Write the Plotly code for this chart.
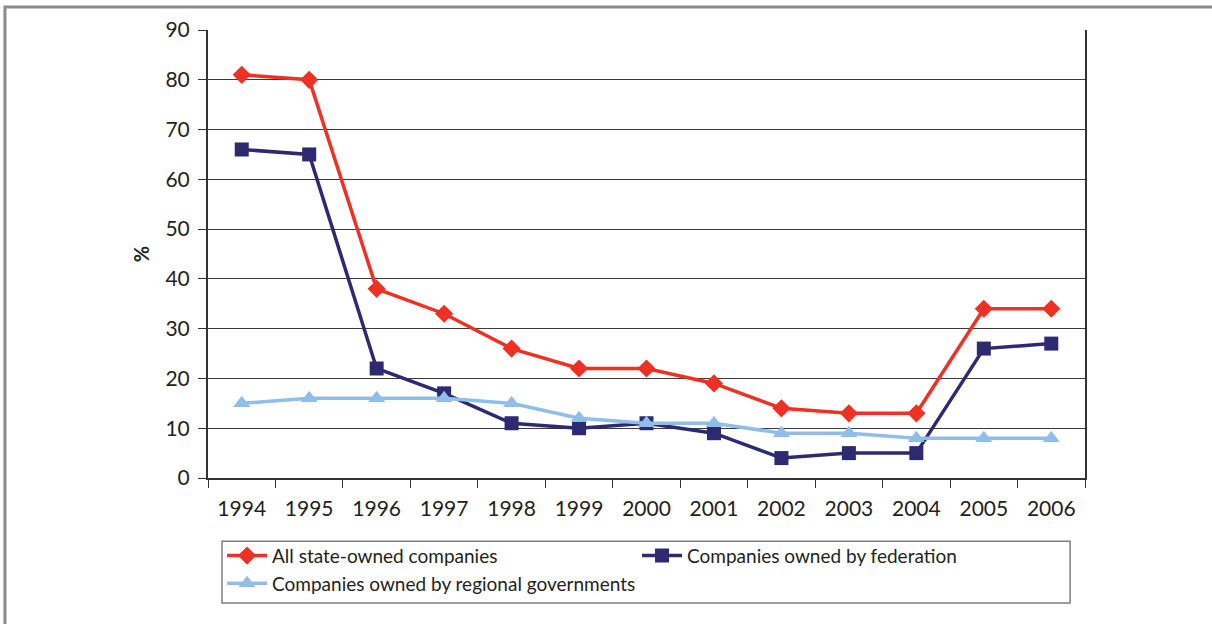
import plotly.graph_objects as go

years = ["1994", "1995", "1996", "1997", "1998", "1999", "2000",
         "2001", "2002", "2003", "2004", "2005", "2006"]
all_state = [81, 80, 38, 33, 26, 22, 22, 19, 14, 13, 13, 34, 34]
federation = [66, 65, 22, 17, 11, 10, 11, 9, 4, 5, 5, 26, 27]
regional = [15, 16, 16, 16, 15, 12, 11, 11, 9, 9, 8, 8, 8]

FONT = "Lato, 'Open Sans', sans-serif"
TXT = "#231f20"

fig = go.Figure()
fig.add_trace(go.Scatter(
    x=years, y=all_state, name="All state-owned companies", mode="lines+markers",
    line=dict(color="#ee3124", width=3.5),
    marker=dict(symbol="diamond", size=14, color="#ee3124")))
fig.add_trace(go.Scatter(
    x=years, y=federation, name="Companies owned by federation", mode="lines+markers",
    line=dict(color="#2e2a72", width=3.5),
    marker=dict(symbol="square", size=14, color="#2e2a72")))
fig.add_trace(go.Scatter(
    x=years, y=regional, name="Companies owned by regional governments", mode="lines+markers",
    line=dict(color="#8fbfe8", width=3.5),
    marker=dict(symbol="triangle-up", size=15, color="#8fbfe8")))

fig.update_layout(
    width=1212, height=624,
    margin=dict(l=208, r=127, t=30, b=146),
    paper_bgcolor="white", plot_bgcolor="white",
    font=dict(family=FONT, size=20, color=TXT),
    showlegend=True,
    legend=dict(
        orientation="h", x=0.016, xanchor="left", y=-0.131, yanchor="top",
        font=dict(family=FONT, size=19, color=TXT),
        borderwidth=0, bgcolor="rgba(0,0,0,0)",
        entrywidth=360, itemwidth=40, tracegroupgap=0,
    ),
    xaxis=dict(
        type="category", range=[-0.5, 12.5],
        showgrid=False, showline=True, linecolor="#333333", linewidth=2,
        ticks="outside", tickson="boundaries", ticklen=8, tickcolor="#333333",
        tickfont=dict(family=FONT, size=21, color=TXT),
        ticklabelstandoff=11,
        fixedrange=True,
    ),
    yaxis=dict(
        range=[0, 90], dtick=10, tick0=0,
        showgrid=True, gridcolor="#3a3a3a", gridwidth=1,
        showline=True, linecolor="#333333", linewidth=2, mirror=True,
        ticks="outside", ticklen=8, tickcolor="#333333",
        tickfont=dict(family=FONT, size=21, color=TXT),
        ticklabelstandoff=4,
        title=dict(text="<b>%</b>", standoff=10, font=dict(family=FONT, size=20, color=TXT)),
        zeroline=False,
    ),
    shapes=[
        dict(type="rect", xref="paper", yref="paper",
             x0=-0.2315, x1=1.3, y0=-0.5, y1=1.0513,
             line=dict(color="#8a8a8a", width=3), layer="below"),
        dict(type="rect", xref="paper", yref="paper",
             x0=0.016, x1=0.983, y0=-0.279, y1=-0.141,
             line=dict(color="#7f7f7f", width=1.5), fillcolor="white", layer="below"),
    ],
)

fig.write_html("out.html")
